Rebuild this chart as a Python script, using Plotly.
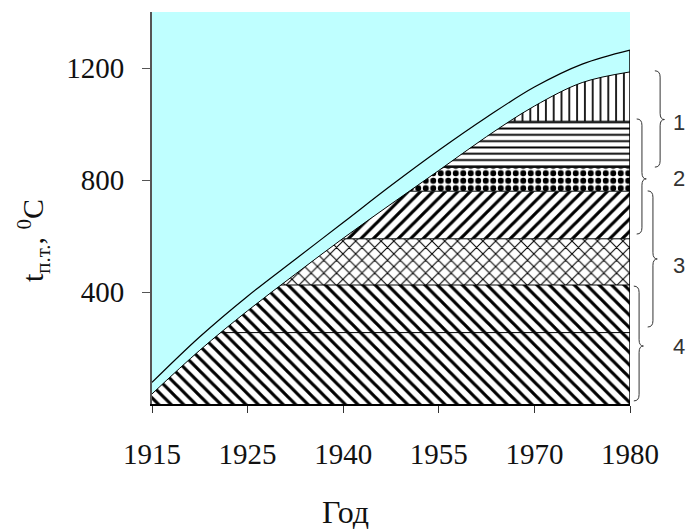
import plotly.graph_objects as go

# category axis: labels are equally spaced, not proportional to years
years = ['1915', '1925', '1940', '1955', '1970', '1980']
pos = [0, 0.5, 1, 1.5, 2, 2.5, 3, 3.5, 4, 4.5, 5]

# lower envelope (top of hatched zone) and upper curve
lower = [36, 192, 333, 464, 592, 714, 834, 955, 1064, 1148, 1186]
upper = [77, 240, 385, 517, 648, 780, 906, 1024, 1132, 1214, 1264]

# horizontal layers, bottom to top
band_tops = [255, 425, 590, 760, 845, 1010]
band_pats = ['\\', '\\', 'x', '/', '.', '-', '|']

# braces on the right: top, bottom, tip (deg C) and label
brace_top = [1190, 1018, 761, 421]
brace_bot = [846, 607, 275, 11]
brace_tip = [1016, 804, 518, 207]
brace_lbl = ['1', '2', '3', '4']
lbl_y = [1007, 804, 495, 207]

ymax = 1400
cyan = '#BFFFFF'
serif = 'Liberation Serif'

pat_style = {
    '\\': dict(size=8.8, solidity=0.36),
    '/': dict(size=8.8, solidity=0.36),
    'x': dict(size=9, solidity=0.22),
    '.': dict(size=7.5, solidity=0.5),
    '-': dict(size=6.3, solidity=0.3),
    '|': dict(size=7.8, solidity=0.22),
}

fig = go.Figure()

tops = band_tops + [ymax]
for i, (top, pat) in enumerate(zip(tops, band_pats)):
    last = i == len(tops) - 1
    fig.add_trace(go.Scatter(
        x=[pos[0], pos[-1]], y=[top, top], mode='lines',
        line=dict(color='black', width=0 if last else 1),
        fill='tozeroy' if i == 0 else 'tonexty',
        fillcolor='white',
        fillpattern=dict(shape=pat, fgcolor='black', bgcolor='white',
                         fgopacity=1, **pat_style[pat]),
        hoverinfo='skip', showlegend=False))

# lower curve, then cyan above it
fig.add_trace(go.Scatter(x=pos, y=lower, mode='lines', line_shape='spline',
                         line=dict(color='black', width=1),
                         hoverinfo='skip', showlegend=False))
fig.add_trace(go.Scatter(x=[pos[0], pos[-1]], y=[ymax, ymax], mode='lines',
                         line=dict(width=0), fill='tonexty', fillcolor=cyan,
                         hoverinfo='skip', showlegend=False))

fig.add_trace(go.Scatter(x=pos, y=upper, mode='lines', line_shape='spline',
                         line=dict(color='black', width=1.2),
                         hoverinfo='skip', showlegend=False))
fig.add_trace(go.Scatter(x=[pos[-1], pos[-1]], y=[0, upper[-1]], mode='lines',
                         line=dict(color='black', width=1.5),
                         hoverinfo='skip', showlegend=False))

# curly braces drawn as paths in paper coords
bx = [1.063, 1.025, 1.048, 1.019]
w, h, tw = 0.011, 0.016, 0.009
for xc, t, b, m in zip(bx, brace_top, brace_bot, brace_tip):
    yt, yb, ym = t / ymax, b / ymax, m / ymax
    path = (f"M{xc-w},{yt} Q{xc},{yt} {xc},{yt-h} L{xc},{ym+h} "
            f"Q{xc},{ym} {xc+tw},{ym} Q{xc},{ym} {xc},{ym-h} "
            f"L{xc},{yb+h} Q{xc},{yb} {xc-w},{yb}")
    fig.add_shape(type='path', path=path, xref='paper', yref='paper',
                  line=dict(color='#333333', width=1))

for lb, ly in zip(brace_lbl, lbl_y):
    fig.add_annotation(x=1.1025, y=ly / ymax, xref='paper', yref='paper',
                       xanchor='center', yanchor='middle',
                       text=lb, showarrow=False,
                       font=dict(family='Liberation Sans', size=22, color='#333333'))

fig.add_annotation(x=0.404, y=-0.276, xref='paper', yref='paper', text='Год',
                   xanchor='center', yanchor='middle', showarrow=False,
                   font=dict(family=serif, size=32, color='#111111'))
fig.add_annotation(x=-0.249, y=0.418, xref='paper', yref='paper', textangle=-90,
                   xanchor='center', yanchor='middle',
                   text='t<sub>п.т.</sub>, <sup>0</sup>C', showarrow=False,
                   font=dict(family=serif, size=30, color='#111111'))

fig.update_xaxes(range=[0, 5], tickvals=list(range(len(years))), ticktext=years,
                 ticks='outside', ticklen=7, tickcolor='#333333',
                 ticklabelstandoff=16, showgrid=False, zeroline=False,
                 showline=True, linecolor='black', linewidth=1.5,
                 tickfont=dict(family=serif, size=29, color='#111111'))
fig.update_yaxes(range=[0, ymax], tickvals=[400, 800, 1200],
                 ticks='outside', ticklen=8, tickcolor='#555555',
                 ticklabelstandoff=12, showgrid=False, zeroline=False,
                 showline=True, linecolor='#555555', linewidth=2,
                 tickfont=dict(family=serif, size=29, color='#111111'))

fig.update_layout(width=686, height=530, margin=dict(l=152, r=56, t=12, b=126),
                  plot_bgcolor=cyan, paper_bgcolor='white', showlegend=False)

# drop the default page margin so the figure fills the window exactly
fig.write_html("out.html", config={'displayModeBar': False},
               post_script="document.body.style.margin='0';"
                           "document.documentElement.style.overflow='hidden';")
